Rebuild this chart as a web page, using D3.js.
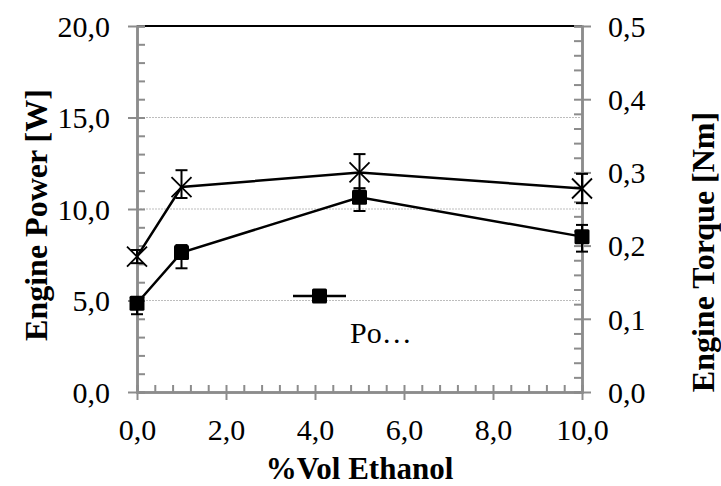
<!DOCTYPE html>
<html>
<head>
<meta charset="utf-8">
<script src="https://cdn.jsdelivr.net/npm/d3@7"></script>
<style>
  body { margin: 0; background: #fff; }
  svg { display: block; }
</style>
</head>
<body>
<div id="graph"></div>
<script>
// values
const ethanol = [0, 1, 5, 10];
const power = [4.85, 7.62, 10.64, 8.49];
const powerErrPlus = [0.3, 0.41, 0.5, 0.64];
const powerErrMinus = [0.6, 0.86, 0.75, 0.82];
const torque = [0.185, 0.28, 0.3, 0.278];
const torqueErrPlus = [0.009, 0.023, 0.025, 0.02];
const torqueErrMinus = [0.009, 0.015, 0.025, 0.02];

const xTicks = [0, 2, 4, 6, 8, 10];
const powerTicks = [0, 5, 10, 15, 20];
const torqueTicks = [0, 0.1, 0.2, 0.3, 0.4, 0.5];
const gridValues = [5, 10, 15];

const xTitle = "%Vol Ethanol";
const leftTitle = "Engine Power [W]";
const rightTitle = "Engine Torque [Nm]";
const legendLabel = "Po…";

const width = 721;
const height = 486;
const margin = { top: 26, right: 141, bottom: 94, left: 137 };

const locale = d3.formatLocale({ decimal: ",", thousands: ".", grouping: [3], currency: ["", ""] });
const fmt1 = locale.format(".1f");

const serif = "Liberation Serif";
const axisColor = "#8c8c8c";

const svg = d3.select("#graph")
  .append("svg")
  .attr("width", width)
  .attr("height", height);

const x = d3.scaleLinear().domain([0, 10]).range([margin.left, width - margin.right + 2]);
const yL = d3.scaleLinear().domain([0, 20]).range([height - margin.bottom, margin.top]);
const yR = d3.scaleLinear().domain([0, 0.5]).range([height - margin.bottom, margin.top]);

// gridlines
svg.append("g")
  .selectAll("line")
  .data(gridValues)
  .join("line")
  .attr("x1", x(0)).attr("x2", x(10))
  .attr("y1", d => yL(d)).attr("y2", d => yL(d))
  .attr("stroke", "#bdbdbd")
  .attr("stroke-width", 1)
  .attr("stroke-dasharray", "2,1");

// top line
svg.append("line")
  .attr("x1", x(0)).attr("x2", x(10))
  .attr("y1", yL(20)).attr("y2", yL(20))
  .attr("stroke", "#000")
  .attr("stroke-width", 2);

function styleAxis(g) {
  g.attr("font-family", serif).attr("font-size", 30);
  g.select(".domain").attr("stroke", axisColor).attr("stroke-width", 2.5);
  g.selectAll(".tick line").attr("stroke", axisColor).attr("stroke-width", 2);
  g.selectAll(".tick text").attr("fill", "#000");
}

// minor ticks
const xMinor = d3.range(0, 10.01, 0.4).map(v => +v.toFixed(1));
const lMinor = d3.range(0, 20.01, 1);
const rMinor = d3.range(0, 0.501, 0.02).map(v => +v.toFixed(2));

svg.append("g")
  .attr("transform", "translate(0," + yL(0) + ")")
  .call(d3.axisBottom(x).tickValues(xMinor).tickSize(-7).tickFormat(""))
  .call(styleAxis);
svg.append("g")
  .attr("transform", "translate(" + x(0) + ",0)")
  .call(d3.axisLeft(yL).tickValues(lMinor).tickSize(-8).tickFormat(""))
  .call(styleAxis);
svg.append("g")
  .attr("transform", "translate(" + x(10) + ",0)")
  .call(d3.axisRight(yR).tickValues(rMinor).tickSize(-8).tickFormat(""))
  .call(styleAxis);

// major ticks
const xAxisG = svg.append("g")
  .attr("transform", "translate(0," + yL(0) + ")")
  .call(d3.axisBottom(x).tickValues(xTicks).tickSize(8).tickSizeOuter(0).tickFormat(fmt1))
  .call(styleAxis);
xAxisG.selectAll(".tick text").attr("y", 0).attr("dy", 48);

const leftAxisG = svg.append("g")
  .attr("transform", "translate(" + x(0) + ",0)")
  .call(d3.axisLeft(yL).tickValues(powerTicks).tickSize(9).tickSizeOuter(0).tickFormat(fmt1))
  .call(styleAxis);
leftAxisG.selectAll(".tick text").attr("x", -27).attr("dy", "0.34em");

const rightAxisG = svg.append("g")
  .attr("transform", "translate(" + x(10) + ",0)")
  .call(d3.axisRight(yR).tickValues(torqueTicks).tickSize(9).tickSizeOuter(0).tickFormat(fmt1))
  .call(styleAxis);
rightAxisG.selectAll(".tick text").attr("x", 26).attr("dy", "0.34em");

// data
const powerData = ethanol.map((e, i) => ({ x: e, y: power[i], up: powerErrPlus[i], down: powerErrMinus[i] }));
const torqueData = ethanol.map((e, i) => ({ x: e, y: torque[i], up: torqueErrPlus[i], down: torqueErrMinus[i] }));

function errorBars(data, yScale) {
  const g = svg.append("g").attr("stroke", "#000").attr("stroke-width", 2);
  data.forEach(d => {
    const top = yScale(d.y + d.up);
    const bot = yScale(d.y - d.down);
    g.append("line").attr("x1", x(d.x)).attr("x2", x(d.x)).attr("y1", top).attr("y2", bot);
    g.append("line").attr("x1", x(d.x) - 6).attr("x2", x(d.x) + 6).attr("y1", top).attr("y2", top);
    g.append("line").attr("x1", x(d.x) - 6).attr("x2", x(d.x) + 6).attr("y1", bot).attr("y2", bot);
  });
}

const powerLine = d3.line().x(d => x(d.x)).y(d => yL(d.y));
const torqueLine = d3.line().x(d => x(d.x)).y(d => yR(d.y));

errorBars(torqueData, yR);
errorBars(powerData, yL);

svg.append("path")
  .datum(torqueData)
  .attr("d", torqueLine)
  .attr("fill", "none")
  .attr("stroke", "#000")
  .attr("stroke-width", 2.5);

svg.append("path")
  .datum(powerData)
  .attr("d", powerLine)
  .attr("fill", "none")
  .attr("stroke", "#000")
  .attr("stroke-width", 2.5);

// X markers
svg.append("g")
  .selectAll("path")
  .data(torqueData)
  .join("path")
  .attr("d", d => {
    const cx = x(d.x), cy = yR(d.y), s = 10;
    return "M" + (cx - s) + "," + (cy - s) + "L" + (cx + s) + "," + (cy + s) +
      "M" + (cx + s) + "," + (cy - s) + "L" + (cx - s) + "," + (cy + s);
  })
  .attr("stroke", "#000")
  .attr("stroke-width", 1.8)
  .attr("fill", "none");

// square markers
svg.append("g")
  .selectAll("rect")
  .data(powerData)
  .join("rect")
  .attr("x", d => x(d.x) - 7.5)
  .attr("y", d => yL(d.y) - 7.5)
  .attr("width", 15)
  .attr("height", 15)
  .attr("rx", 1.5)
  .attr("fill", "#000");

// legend
const legend = svg.append("g").attr("transform", "translate(293,296)");
legend.append("line").attr("x1", 0).attr("x2", 53).attr("y1", 0).attr("y2", 0)
  .attr("stroke", "#000").attr("stroke-width", 2.5);
legend.append("rect").attr("x", 19).attr("y", -7.5).attr("width", 15).attr("height", 15)
  .attr("rx", 1.5).attr("fill", "#000");
legend.append("text")
  .attr("x", 57).attr("y", 47)
  .attr("font-family", serif).attr("font-size", 30)
  .text(legendLabel);

// axis titles
svg.append("text")
  .attr("x", (x(0) + x(10)) / 2)
  .attr("y", 479)
  .attr("text-anchor", "middle")
  .attr("font-family", serif).attr("font-weight", "bold").attr("font-size", 31)
  .text(xTitle);

svg.append("text")
  .attr("transform", "translate(47,215) rotate(-90)")
  .attr("text-anchor", "middle")
  .attr("font-family", serif).attr("font-weight", "bold").attr("font-size", 32)
  .text(leftTitle);

svg.append("text")
  .attr("transform", "translate(714,252) rotate(-90)")
  .attr("text-anchor", "middle")
  .attr("font-family", serif).attr("font-weight", "bold").attr("font-size", 32)
  .text(rightTitle);
</script>
</body>
</html>
